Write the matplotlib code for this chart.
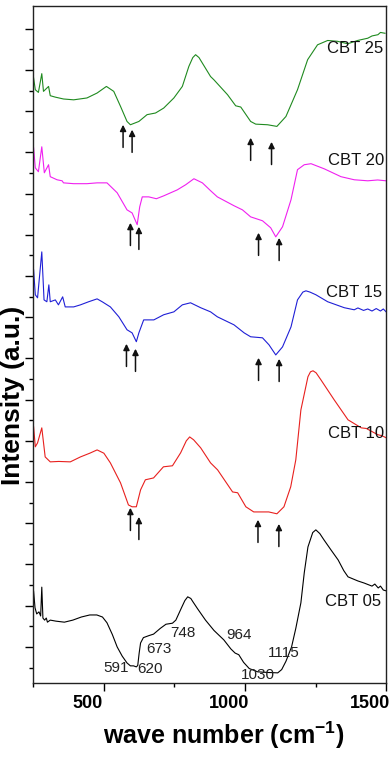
import matplotlib.pyplot as plt
from matplotlib.ticker import FixedLocator
from matplotlib.transforms import ScaledTranslation

plt.rcParams['font.family'] = ['Liberation Sans', 'DejaVu Sans']
plt.rcParams['mathtext.fontset'] = 'custom'
plt.rcParams['mathtext.rm'] = 'Liberation Sans'
plt.rcParams['mathtext.bf'] = 'Liberation Sans:bold'

# ---- spectra (stacked, arbitrary units) ----
wn_05 = [251, 256, 262, 270, 276, 280, 284, 290, 296, 300, 310, 330, 360, 390, 420, 450,
         475, 495, 511, 530, 547, 565, 582, 594, 605, 615, 620, 625, 630, 640, 660, 676,
         700, 720, 743, 755, 775, 787, 797, 808, 815, 832, 860, 890, 925, 950, 965, 978,
         995, 1015, 1045, 1080, 1116, 1130, 1145, 1165, 1180, 1198, 1210, 1223, 1240,
         1251, 1265, 1280, 1305, 1330, 1350, 1365, 1400, 1422, 1450, 1460, 1472, 1480,
         1490, 1500]
int_05 = [2.7, 1.9, 1.6, 1.7, 1.5, 2.9, 1.4, 1.3, 1.4, 1.2, 1.3, 1.25, 1.2, 1.3, 1.45, 1.55,
          1.55, 1.45, 1.17, 0.6, 0.0, -0.45, -0.78, -0.92, -0.92, -0.97, -0.9, -0.3, 0.19,
          0.45, 0.55, 0.62, 0.9, 1.1, 1.15, 1.3, 1.9, 2.25, 2.43, 2.35, 2.2, 1.85, 1.3, 0.8,
          0.34, -0.1, -0.3, -0.38, -0.75, -1.05, -1.21, -1.24, -1.26, -1.1, -0.7, 0.0, 0.9,
          2.14, 3.6, 4.85, 5.55, 5.68, 5.5, 5.19, 4.7, 4.22, 3.7, 3.40, 3.2, 3.1, 2.95,
          3.05, 2.86, 2.95, 2.76, 2.72]

wn_10 = [251, 257, 265, 280, 292, 310, 340, 381, 417, 450, 476, 500, 523, 559, 587, 600,
         615, 630, 647, 676, 711, 743, 772, 792, 804, 818, 843, 878, 903, 956, 974, 1003,
         1031, 1084, 1113, 1138, 1162, 1180, 1198, 1223, 1232, 1241, 1252, 1269, 1316,
         1365, 1412, 1430, 1458, 1470, 1485, 1500]
int_10 = [10.68, 9.71, 9.9, 10.63, 9.22, 8.98, 9.0, 8.98, 9.22, 9.4, 9.56, 9.4, 8.93,
          7.96, 6.89, 6.80, 6.80, 7.62, 8.11, 8.20, 8.74, 8.79, 9.42, 10.0, 10.19, 10.05,
          9.66, 8.93, 8.59, 7.52, 7.48, 6.80, 6.55, 6.55, 6.46, 6.80, 7.77, 9.08, 11.50,
          13.11, 13.35, 13.40, 13.3, 12.96, 11.99, 11.02, 10.63, 10.6, 10.39, 10.3, 10.25,
          10.15]

wn_15 = [251, 257, 265, 280, 288, 298, 305, 310, 328, 339, 354, 363, 393, 417, 446, 476,
         494, 523, 553, 582, 600, 615, 624, 641, 677, 712, 748, 778, 807, 843, 878, 902,
         961, 997, 1020, 1062, 1085, 1109, 1133, 1163, 1186, 1205, 1216, 1230, 1251, 1293,
         1352, 1387, 1400, 1420, 1435, 1450, 1465, 1480, 1490, 1500]
int_15 = [18.30, 17.09, 16.94, 19.17, 16.84, 16.75, 17.57, 16.75, 16.84, 16.60, 16.99,
          16.50, 16.50, 16.60, 16.75, 16.89, 16.75, 16.50, 16.02, 15.39, 15.24, 14.81,
          15.24, 15.87, 15.87, 16.12, 16.26, 16.60, 16.70, 16.46, 16.26, 16.02, 15.63,
          15.24, 15.05, 15.0, 14.66, 14.17, 14.56, 15.53, 16.84, 17.22, 17.28, 17.22,
          17.09, 16.75, 16.46, 16.36, 16.45, 16.33, 16.40, 16.30, 16.42, 16.30, 16.40,
          16.26]

wn_20 = [251, 257, 268, 280, 289, 304, 310, 334, 352, 357, 393, 440, 476, 511, 547, 582,
         600, 618, 627, 636, 659, 686, 712, 760, 790, 819, 849, 878, 902, 961, 991, 1020,
         1062, 1091, 1109, 1133, 1163, 1186, 1210, 1234, 1281, 1340, 1387, 1435, 1470, 1500]
int_20 = [24.22, 23.25, 23.06, 24.27, 23.01, 23.40, 22.82, 22.67, 22.62, 22.52, 22.48,
          22.48, 22.52, 22.52, 22.04, 21.21, 21.06, 20.49, 21.36, 21.84, 21.84, 21.75,
          21.89, 22.18, 22.43, 22.72, 22.52, 22.14, 21.84, 21.41, 21.21, 20.87, 20.68,
          20.34, 19.90, 20.39, 21.70, 23.16, 23.40, 23.45, 23.20, 22.82, 22.67, 22.62,
          22.66, 22.62]

wn_25 = [251, 257, 268, 280, 286, 304, 310, 328, 357, 393, 440, 476, 509, 535, 559, 582,
         594, 624, 653, 683, 712, 748, 778, 801, 815, 825, 837, 849, 878, 890, 938, 967,
         985, 1020, 1038, 1080, 1113, 1145, 1186, 1222, 1257, 1293, 1328, 1364, 1399, 1435,
         1450, 1471, 1480, 1496]
int_25 = [27.61, 27.04, 26.91, 27.82, 26.96, 27.20, 26.75, 26.68, 26.59, 26.55, 26.64,
          26.88, 27.20, 26.96, 26.23, 25.50, 25.34, 25.50, 25.83, 25.91, 26.15, 26.64,
          27.20, 28.17, 28.6, 28.74, 28.6, 28.33, 27.68, 27.52, 26.80, 26.26, 26.20, 25.50,
          25.37, 25.34, 25.26, 25.74, 27.04, 28.50, 29.22, 29.43, 29.39, 29.27, 29.43,
          29.54, 29.65, 29.71, 29.82, 29.78]

series = [
    ("CBT 05", wn_05, int_05, "black"),
    ("CBT 10", wn_10, int_10, "#e8201e"),
    ("CBT 15", wn_15, int_15, "#1f1fd6"),
    ("CBT 20", wn_20, int_20, "#f020f0"),
    ("CBT 25", wn_25, int_25, "#1f8a1f"),
]

# label positions (wave number, intensity)
label_x = [1383, 1393, 1385, 1393, 1390]
label_y = [2.18, 10.34, 17.22, 23.61, 29.02]

# band assignments on CBT 05
band_text = ["591", "620", "673", "748", "964", "1030", "1115"]
band_x = [544, 662, 694, 779, 978, 1045, 1138]
band_y = [-1.02, -1.07, -0.1, 0.68, 0.58, -1.36, -0.29]

# arrows: wave number and tip height
arrow_x = [568, 600, 1020, 1094,
           594, 624, 1048, 1121,
           580, 612, 1048, 1121,
           594, 624, 1046, 1120]
arrow_tip = [25.34, 25.10, 24.71, 24.51,
             20.58, 20.39, 20.10, 19.85,
             14.71, 14.47, 14.03, 13.98,
             6.75, 6.31, 6.17, 5.97]

fig = plt.figure(figsize=(3.92, 7.58), dpi=100)
ax = fig.add_axes([0.085, 0.099, 0.9, 0.893])

for name, x, y, c in series:
    ax.plot(x, y, color=c, lw=0.8)

for name, lx, ly in zip([s[0] for s in series], label_x, label_y):
    ax.text(lx, ly, name, fontsize=12, ha="center", va="center", color="#111111")

for t, bx, by in zip(band_text, band_x, band_y):
    ax.text(bx, by, t, fontsize=11, ha="center", va="center", color="#222222")

for ax_x, tip in zip(arrow_x, arrow_tip):
    ax.annotate("", xy=(ax_x, tip), xytext=(ax_x, tip - 1.1),
                arrowprops=dict(arrowstyle="-|>", color="#111111", lw=1.1,
                                mutation_scale=9, shrinkA=0, shrinkB=0))

ax.set_xlim(250, 1500)
ax.set_ylim(-1.75, 31.1)
ax.xaxis.set_major_locator(FixedLocator([500, 1000, 1500]))
ax.xaxis.set_minor_locator(FixedLocator([250, 750, 1250]))
ax.yaxis.set_major_locator(FixedLocator(list(range(0, 31, 2))))
ax.yaxis.set_minor_locator(FixedLocator(list(range(-1, 30, 2))))
ax.set_yticklabels([])
ax.tick_params(axis="both", which="major", direction="out", length=6, width=1)
ax.tick_params(axis="both", which="minor", direction="out", length=3, width=1)
ax.tick_params(axis="x", labelsize=13, pad=3)
shift = ScaledTranslation(-16 / 100, 0, fig.dpi_scale_trans)
for lab in ax.get_xticklabels():
    lab.set_fontweight("bold")
    lab.set_transform(lab.get_transform() + shift)
for sp in ax.spines.values():
    sp.set_linewidth(1)
    sp.set_color("#222222")

fig.text(224 / 392, 1 - 735 / 758, "wave number (cm$^{\\mathbf{-1}}$)",
         fontsize=18, fontweight="bold", ha="center", va="center")
fig.text(13 / 392, 1 - 395 / 758, "Intensity (a.u.)", rotation=90,
         fontsize=19, fontweight="bold", ha="center", va="center")

fig.savefig("out.png", dpi=100)
